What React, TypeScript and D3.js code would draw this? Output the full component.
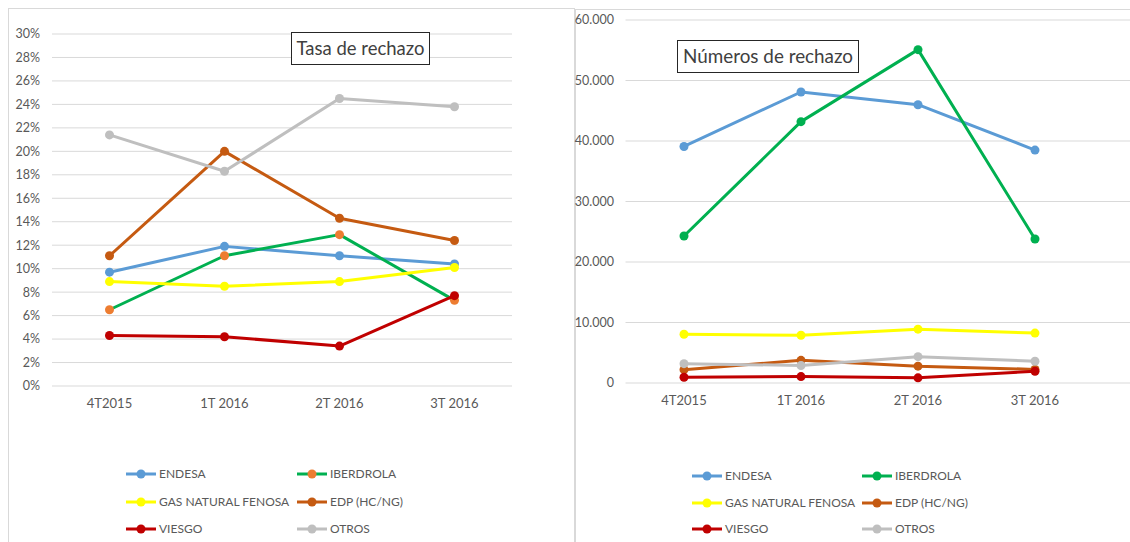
import React, { useEffect, useRef } from 'react';
import * as d3 from 'd3';

const categories = ['4T2015', '1T 2016', '2T 2016', '3T 2016'];

const seriesNames = ['ENDESA', 'IBERDROLA', 'GAS NATURAL FENOSA', 'EDP (HC/NG)', 'VIESGO', 'OTROS'];

// Tasa de rechazo (%)
const rateEndesa = [9.7, 11.9, 11.1, 10.4];
const rateIberdrola = [6.5, 11.1, 12.9, 7.3];
const rateGas = [8.9, 8.5, 8.9, 10.1];
const rateEdp = [11.1, 20.0, 14.3, 12.4];
const rateViesgo = [4.3, 4.2, 3.4, 7.7];
const rateOtros = [21.4, 18.3, 24.5, 23.8];

// Números de rechazo
const numEndesa = [39100, 48100, 46000, 38500];
const numIberdrola = [24300, 43200, 55100, 23800];
const numGas = [8050, 7900, 8900, 8250];
const numEdp = [2200, 3750, 2780, 2250];
const numViesgo = [950, 1060, 850, 1950];
const numOtros = [3200, 2900, 4350, 3600];

const rateTicks = d3.range(0, 31, 2);
const numTicks = d3.range(0, 60001, 10000);

const lineColors = ['#5B9BD5', '#00B050', '#FFFF00', '#C55A11', '#C00000', '#BFBFBF'];
const leftMarkerColors = ['#5B9BD5', '#ED7D31', '#FFFF00', '#C55A11', '#C00000', '#BFBFBF'];

const FONT = 'Lato, "Liberation Sans", sans-serif';
const TEXT = '#595959';

const esLocale = d3.formatLocale({ decimal: ',', thousands: '.', grouping: [3], currency: ['', '€'] });
const fmtNum = esLocale.format(',');

type Panel = {
  values: number[][];
  markers: string[];
  ticks: number[];
  fmt: (v: number) => string;
  xRange: [number, number];
  yRange: [number, number];
  gridEnd: number;
  labelX: number;
  title: string;
  titleBox: { x: number; y: number; w: number; h: number; len: number };
  legend: { x0: number; x1: number; rows: number[] };
};

const drawPanel = (svg: d3.Selection<SVGSVGElement, unknown, null, undefined>, p: Panel) => {
  const x = d3.scaleBand().domain(categories).range(p.xRange);
  const y = d3.scaleLinear().domain([p.ticks[0], p.ticks[p.ticks.length - 1]]).range(p.yRange);
  const cx = (c: string) => (x(c) as number) + x.bandwidth() / 2;

  const g = svg.append('g');

  // rejilla y etiquetas del eje y
  p.ticks.forEach(t => {
    g.append('line')
      .attr('x1', p.xRange[0]).attr('x2', p.gridEnd)
      .attr('y1', y(t)).attr('y2', y(t))
      .attr('stroke', '#D9D9D9').attr('stroke-width', 1);
    g.append('text')
      .attr('x', p.labelX).attr('y', y(t)).attr('dy', '0.35em')
      .attr('text-anchor', 'end')
      .attr('font-size', 12.5).attr('fill', TEXT)
      .text(p.fmt(t));
  });

  // etiquetas del eje x
  categories.forEach(c => {
    g.append('text')
      .attr('x', cx(c)).attr('y', p.yRange[0] + 17).attr('dy', '0.35em')
      .attr('text-anchor', 'middle')
      .attr('font-size', 13).attr('fill', TEXT)
      .text(c);
  });

  const line = d3.line<number>()
    .x((d, i) => cx(categories[i]))
    .y(d => y(d));

  p.values.forEach((vals, i) => {
    g.append('path')
      .datum(vals)
      .attr('fill', 'none')
      .attr('stroke', lineColors[i])
      .attr('stroke-width', 3)
      .attr('stroke-linejoin', 'round')
      .attr('d', line);
    g.selectAll(null)
      .data(vals)
      .enter()
      .append('circle')
      .attr('cx', (d, j) => cx(categories[j]))
      .attr('cy', d => y(d))
      .attr('r', 4.5)
      .attr('fill', p.markers[i]);
  });

  // caja del título
  const tb = p.titleBox;
  g.append('rect')
    .attr('x', tb.x).attr('y', tb.y).attr('width', tb.w).attr('height', tb.h)
    .attr('fill', '#fff').attr('stroke', '#262626').attr('stroke-width', 1);
  g.append('text')
    .attr('x', tb.x + tb.w / 2).attr('y', tb.y + tb.h / 2).attr('dy', '0.35em')
    .attr('text-anchor', 'middle')
    .attr('font-size', 19).attr('fill', '#404040')
    .attr('textLength', tb.len).attr('lengthAdjust', 'spacingAndGlyphs')
    .text(p.title);

  // leyenda
  seriesNames.forEach((name, i) => {
    const lx = i % 2 === 0 ? p.legend.x0 : p.legend.x1;
    const ly = p.legend.rows[Math.floor(i / 2)];
    const row = g.append('g').attr('transform', `translate(${lx},${ly})`);
    row.append('line')
      .attr('x1', 0).attr('x2', 30).attr('y1', 0).attr('y2', 0)
      .attr('stroke', lineColors[i]).attr('stroke-width', 3);
    row.append('circle')
      .attr('cx', 15).attr('cy', 0).attr('r', 4.5)
      .attr('fill', p.markers[i]);
    row.append('text')
      .attr('x', 33).attr('y', 0).attr('dy', '0.35em')
      .attr('font-size', 12).attr('fill', TEXT)
      .text(name);
  });
};

const App = () => {
  const svgRef = useRef<SVGSVGElement>(null);

  useEffect(() => {
    const svg = d3.select(svgRef.current as SVGSVGElement);
    svg.selectAll('*').remove();
    svg.attr('font-family', FONT);

    svg.append('rect').attr('width', 1130).attr('height', 542).attr('fill', '#fff');

    // marcos de los gráficos
    svg.append('rect')
      .attr('x', 8.5).attr('y', 8.5).attr('width', 566).attr('height', 560)
      .attr('fill', 'none').attr('stroke', '#D9D9D9');
    svg.append('rect')
      .attr('x', 575.5).attr('y', 9.5).attr('width', 600).attr('height', 560)
      .attr('fill', 'none').attr('stroke', '#D9D9D9');

    drawPanel(svg, {
      values: [rateEndesa, rateIberdrola, rateGas, rateEdp, rateViesgo, rateOtros],
      markers: leftMarkerColors,
      ticks: rateTicks,
      fmt: v => `${v}%`,
      xRange: [52, 512],
      yRange: [386, 34],
      gridEnd: 512,
      labelX: 40,
      title: 'Tasa de rechazo',
      titleBox: { x: 291.5, y: 32.5, w: 138, h: 32, len: 128 },
      legend: { x0: 126, x1: 297, rows: [474, 502, 529] }
    });

    drawPanel(svg, {
      values: [numEndesa, numIberdrola, numGas, numEdp, numViesgo, numOtros],
      markers: lineColors,
      ticks: numTicks,
      fmt: v => fmtNum(v),
      xRange: [625.5, 1093.5],
      yRange: [383, 20],
      gridEnd: 1130,
      labelX: 614,
      title: 'Números de rechazo',
      titleBox: { x: 677.5, y: 40.5, w: 181, h: 32, len: 170 },
      legend: { x0: 692, x1: 862, rows: [476, 503, 529] }
    });
  }, []);

  return (
    <div style={{ position: 'absolute', left: 0, top: 0, width: 1130, height: 542, overflow: 'hidden' }}>
      <svg ref={svgRef} width={1130} height={542} style={{ display: 'block' }} />
    </div>
  );
};

export default App;
